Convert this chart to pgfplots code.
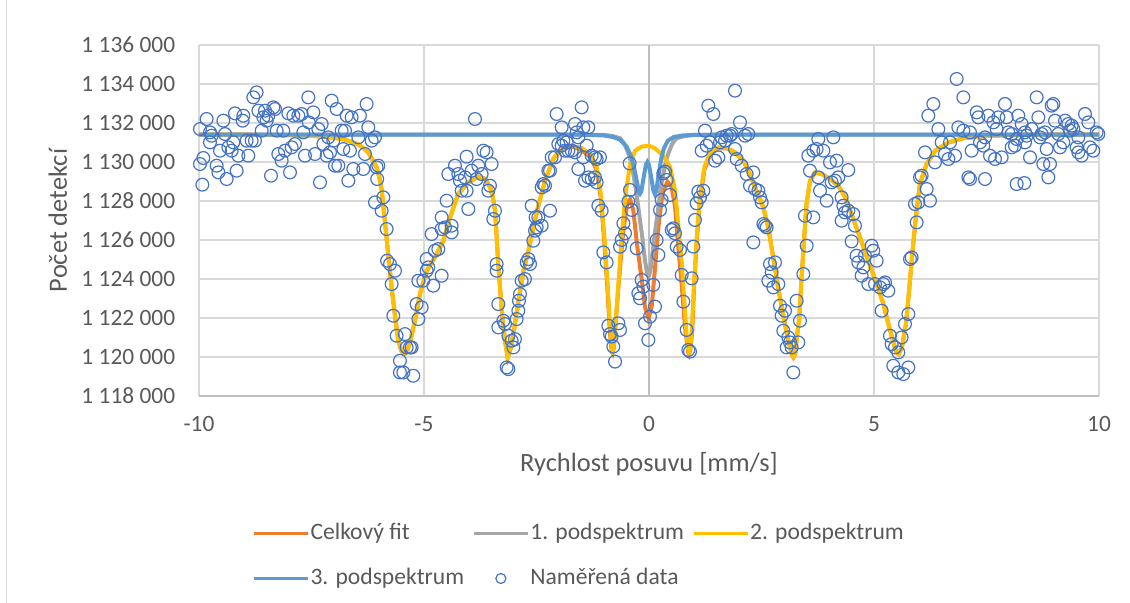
\documentclass[border=0pt]{standalone}
\usepackage{fontspec}
\setmainfont{Carlito}
\usepackage{pgfplots}
\usepackage{pgfplotstable}
\pgfplotsset{compat=1.18}
\definecolor{cOrange}{HTML}{ED7D31}
\definecolor{cGray}{HTML}{A5A5A5}
\definecolor{cYellow}{HTML}{FFC000}
\definecolor{cBlue}{HTML}{5B9BD5}
\definecolor{cData}{HTML}{4472C4}
\definecolor{cGrid}{HTML}{D9D9D9}
\definecolor{cAxis}{HTML}{BFBFBF}
\definecolor{cText}{HTML}{595959}

\pgfplotstableread{
x y
-10 1131400
-9 1131400
-8 1131380
-7.5 1131340
-7.2 1131290
-7.0 1131240
-6.76 1131150
-6.6 1131030
-6.46 1130900
-6.35 1130720
-6.24 1130480
-6.15 1130150
-6.05 1129700
-5.99 1129200
-5.94 1128550
-5.87 1127000
-5.79 1125100
-5.72 1123570
-5.64 1122030
-5.57 1120830
-5.5 1120300
-5.46 1120180
-5.42 1120170
-5.39 1120230
-5.31 1120750
-5.2 1121860
-5.09 1123230
-4.94 1124420
-4.76 1125110
-4.57 1125960
-4.42 1127160
-4.24 1128360
-4.01 1128960
-3.79 1129250
-3.64 1129130
-3.53 1128700
-3.47 1128200
-3.42 1127500
-3.35 1124770
-3.27 1122370
-3.2 1120830
-3.14 1119980
-3.07 1120490
-2.99 1121520
-2.9 1122890
-2.79 1124420
-2.68 1125450
-2.57 1126650
-2.45 1127840
-2.31 1129040
-2.13 1130150
-1.94 1130670
-1.72 1130840
-1.5 1130720
-1.31 1130410
-1.16 1129730
-1.07 1128360
-0.99 1126130
-0.92 1123740
-0.87 1121690
-0.83 1120500
-0.81 1120320
-0.79 1120450
-0.76 1121180
-0.7 1123060
-0.62 1125790
-0.53 1128190
-0.42 1129900
-0.31 1130580
-0.16 1130790
0.0 1130840
0.13 1130700
0.32 1130320
0.47 1129730
0.58 1128530
0.65 1126820
0.73 1124770
0.79 1122710
0.84 1121000
0.87 1120400
0.89 1120230
0.91 1120400
0.95 1121350
1.0 1123740
1.06 1126130
1.13 1128190
1.23 1129730
1.36 1130500
1.54 1130750
1.73 1130720
1.91 1130500
2.1 1130070
2.24 1129380
2.39 1128530
2.54 1127670
2.65 1126650
2.76 1125110
2.87 1123570
2.99 1122030
3.1 1120830
3.17 1120150
3.21 1119980
3.25 1120150
3.28 1120900
3.34 1122000
3.39 1124080
3.45 1126130
3.5 1127840
3.58 1129040
3.69 1129470
3.84 1129380
4.02 1129130
4.21 1128780
4.36 1128190
4.5 1127330
4.69 1126130
4.87 1124940
5.06 1123740
5.21 1122710
5.32 1121690
5.43 1120750
5.5 1120250
5.55 1120150
5.62 1120490
5.71 1121690
5.78 1123400
5.85 1125280
5.93 1127160
6.02 1128870
6.17 1129900
6.36 1130580
6.65 1131000
7.0 1131230
7.5 1131330
8.0 1131380
9.0 1131400
10 1131400
}\yellowtab

\pgfplotstableread{
x y
-10 1131400
-9 1131400
-8 1131380
-7.5 1131340
-7.2 1131290
-7.0 1131240
-6.76 1131150
-6.6 1131030
-6.46 1130900
-6.35 1130720
-6.24 1130480
-6.15 1130150
-6.05 1129700
-5.99 1129200
-5.94 1128550
-5.87 1127000
-5.79 1125100
-5.72 1123570
-5.64 1122030
-5.57 1120830
-5.5 1120300
-5.46 1120180
-5.42 1120170
-5.39 1120230
-5.31 1120750
-5.2 1121860
-5.09 1123230
-4.94 1124420
-4.76 1125110
-4.57 1125960
-4.42 1127160
-4.24 1128360
-4.01 1128960
-3.79 1129250
-3.64 1129130
-3.53 1128700
-3.47 1128200
-3.42 1127500
-3.35 1124770
-3.27 1122370
-3.2 1120830
-3.14 1119980
-3.07 1120490
-2.99 1121520
-2.9 1122890
-2.79 1124420
-2.68 1125450
-2.57 1126650
-2.45 1127840
-2.31 1129040
-2.13 1130150
-1.94 1130650
-1.72 1130800
-1.5 1130620
-1.31 1130250
-1.16 1129600
-1.07 1128150
-0.99 1125800
-0.92 1123350
-0.87 1121300
-0.83 1120300
-0.81 1120200
-0.78 1120500
-0.74 1121800
-0.68 1123600
-0.57 1126510
-0.48 1127880
-0.42 1128090
-0.35 1127540
-0.26 1125660
-0.16 1123950
-0.09 1122580
-0.01 1121980
0.06 1122580
0.13 1124460
0.21 1126680
0.3 1128400
0.41 1128990
0.5 1128740
0.58 1127710
0.65 1125660
0.73 1123600
0.8 1121550
0.87 1120250
0.89 1120150
0.92 1120400
0.96 1121300
1.0 1123500
1.06 1125900
1.13 1128000
1.23 1129600
1.36 1130400
1.54 1130700
1.73 1130700
1.91 1130500
2.1 1130070
2.24 1129380
2.39 1128530
2.54 1127670
2.65 1126650
2.76 1125110
2.87 1123570
2.99 1122030
3.1 1120830
3.17 1120150
3.21 1119980
3.25 1120150
3.28 1120900
3.34 1122000
3.39 1124080
3.45 1126130
3.5 1127840
3.58 1129040
3.69 1129470
3.84 1129380
4.02 1129130
4.21 1128780
4.36 1128190
4.5 1127330
4.69 1126130
4.87 1124940
5.06 1123740
5.21 1122710
5.32 1121690
5.43 1120750
5.5 1120250
5.55 1120150
5.62 1120490
5.71 1121690
5.78 1123400
5.85 1125280
5.93 1127160
6.02 1128870
6.17 1129900
6.36 1130580
6.65 1131000
7.0 1131230
7.5 1131330
8.0 1131380
9.0 1131400
10 1131400
}\orangetab

\pgfplotstableread{
x y
-10 1131400
-1.5 1131400
-1.0 1131390
-0.8 1131330
-0.64 1131215
-0.55 1130950
-0.46 1130450
-0.4 1130000
-0.35 1129420
-0.3 1128700
-0.24 1127710
-0.2 1127000
-0.16 1126340
-0.12 1125550
-0.09 1124970
-0.05 1124400
-0.01 1124120
0.03 1124400
0.06 1124970
0.09 1125550
0.13 1126340
0.17 1127000
0.21 1127710
0.26 1128700
0.32 1129420
0.37 1130000
0.43 1130450
0.52 1130950
0.61 1131215
0.8 1131330
1.0 1131390
1.5 1131400
10 1131400
}\graytab

\pgfplotstableread{
x y
-10 1131400
-1.5 1131400
-1.0 1131360
-0.8 1131280
-0.65 1131150
-0.5 1130800
-0.4 1130300
-0.33 1129700
-0.27 1129000
-0.22 1128450
-0.2 1128380
-0.17 1128500
-0.12 1129200
-0.07 1129850
-0.035 1130000
0.0 1129850
0.05 1129200
0.1 1128500
0.13 1128350
0.16 1128500
0.21 1129300
0.27 1130150
0.33 1130700
0.42 1131100
0.55 1131280
0.75 1131360
1.0 1131390
1.5 1131400
10 1131400
}\bluetab

\pgfplotstableread{
x y
-9.978 1131691
-9.830 1132205
-9.904 1130204
-9.978 1129896
-9.926 1128836
-9.756 1131520
-9.756 1131007
-9.719 1131349
-9.608 1129810
-9.570 1129468
-9.459 1132119
-9.533 1130580
-9.422 1131435
-9.385 1129126
-9.348 1130751
-9.274 1130580
-9.237 1131007
-9.200 1132495
-9.163 1129554
-9.126 1130323
-9.015 1132375
-9.030 1132119
-8.904 1130323
-8.941 1131093
-8.830 1131093
-8.756 1131093
-8.793 1133316
-8.719 1133572
-8.681 1132632
-8.607 1131606
-8.570 1132290
-8.533 1132632
-8.496 1132119
-8.459 1132375
-8.400 1129297
-8.348 1132803
-8.311 1132717
-8.274 1131606
-8.237 1130409
-8.163 1130067
-8.126 1131606
-8.089 1130580
-8.015 1132495
-7.978 1129468
-7.941 1130751
-7.904 1132375
-7.867 1130922
-7.793 1132375
-7.719 1132461
-7.645 1130323
-7.682 1131520
-7.570 1133316
-7.560 1132033
-7.459 1132546
-7.422 1130409
-7.348 1131691
-7.311 1128955
-7.274 1131948
-7.237 1130922
-7.163 1130323
-7.126 1131264
-7.089 1130494
-7.052 1133145
-7.015 1131093
-6.941 1132717
-6.978 1129810
-6.904 1129810
-6.830 1131606
-6.793 1130665
-6.756 1131606
-6.719 1132375
-6.681 1129041
-6.645 1130580
-6.608 1132290
-6.571 1129640
-6.460 1131264
-6.423 1132375
-6.349 1129640
-6.312 1130409
-6.275 1132974
-6.238 1131777
-6.163 1131093
-6.089 1131264
-6.052 1129725
-6.015 1129810
-6.040 1129126
-6.089 1127930
-5.941 1127502
-5.904 1128186
-5.830 1126562
-5.820 1124937
-5.756 1124766
-5.645 1124424
-5.719 1123740
-5.682 1122116
-5.608 1121090
-5.423 1121175
-5.534 1119807
-5.534 1119208
-5.460 1119208
-5.386 1120491
-5.312 1120491
-5.275 1120491
-5.238 1119037
-5.164 1122714
-5.052 1122543
-5.127 1121945
-5.127 1123911
-5.016 1123911
-4.941 1124424
-4.904 1124595
-4.793 1123655
-4.608 1124168
-4.941 1125023
-4.756 1125450
-4.682 1125536
-4.830 1126305
-4.608 1126562
-4.534 1126647
-4.386 1126733
-4.386 1126390
-4.608 1127160
-4.497 1128015
-4.460 1129383
-4.312 1129810
-4.238 1129383
-4.201 1129041
-4.163 1128528
-4.053 1128528
-4.089 1129212
-4.053 1130272
-4.015 1127588
-3.941 1129554
-3.867 1132204
-3.830 1129126
-3.793 1129810
-3.719 1129383
-3.682 1130580
-3.608 1130494
-3.571 1128528
-3.497 1129896
-3.534 1128786
-3.423 1127502
-3.460 1127075
-3.386 1124766
-3.386 1124424
-3.349 1122714
-3.349 1121517
-3.237 1121859
-3.200 1121688
-3.126 1121090
-3.052 1120833
-3.015 1120491
-3.163 1119465
-3.126 1119380
-2.978 1120919
-2.941 1121945
-2.904 1122372
-2.890 1122885
-2.867 1123227
-2.830 1123911
-2.756 1123997
-2.718 1124852
-2.681 1125023
-2.644 1124766
-2.570 1125963
-2.533 1126476
-2.496 1126647
-2.459 1127160
-2.385 1126733
-2.607 1127759
-2.520 1127160
-2.200 1127502
-2.385 1128699
-2.348 1128870
-2.311 1128785
-2.237 1129554
-2.200 1129554
-2.163 1130238
-2.089 1130238
-2.052 1132461
-1.941 1131777
-2.015 1130922
-1.941 1130837
-1.904 1131093
-1.830 1131007
-1.867 1130580
-1.793 1130580
-1.718 1130580
-1.644 1130494
-1.644 1131948
-1.607 1131520
-1.570 1131264
-1.496 1132803
-1.459 1131777
-1.348 1131777
-1.385 1130837
-1.570 1129640
-1.459 1130238
-1.422 1129041
-1.348 1129212
-1.274 1129126
-1.274 1130323
-1.200 1130238
-1.163 1130153
-1.089 1130238
-1.200 1129212
-1.163 1128956
-1.126 1127759
-1.052 1127502
-1.015 1125365
-0.941 1124852
-0.904 1121603
-0.867 1121175
-0.830 1121045
-0.793 1120533
-0.755 1119764
-0.681 1121729
-0.644 1121387
-0.644 1125660
-0.607 1126002
-0.533 1126343
-0.570 1126856
-0.459 1127967
-0.430 1129930
-0.422 1128565
-0.385 1127540
-0.274 1125574
-0.200 1123011
-0.237 1123267
-0.126 1123609
-0.163 1123951
-0.089 1121729
-0.015 1120874
0.096 1123694
0.133 1122584
0.022 1122071
0.170 1126002
0.208 1125233
0.245 1127540
0.282 1128053
0.319 1129420
0.356 1129505
0.393 1129078
0.467 1128309
0.504 1126514
0.541 1126600
0.578 1126343
0.615 1125660
0.689 1125489
0.726 1124207
0.763 1122840
0.837 1121387
0.874 1120362
0.911 1120276
0.948 1124036
0.985 1125660
1.022 1127027
1.059 1127882
1.096 1128480
1.133 1128186
1.207 1128528
1.244 1131606
1.170 1130580
1.281 1130837
1.355 1131007
1.318 1132888
1.430 1132461
1.467 1130067
1.541 1130238
1.578 1131007
1.615 1131264
1.689 1131093
1.726 1131349
1.800 1131349
1.837 1131435
1.911 1130665
1.948 1130153
2.022 1132033
1.911 1133658
2.133 1131349
2.059 1129810
2.170 1129383
2.244 1128785
2.207 1131435
2.319 1129468
2.356 1128614
2.430 1128528
2.467 1128186
2.504 1127930
2.541 1126818
2.578 1126733
2.615 1126647
2.319 1125878
2.689 1124766
2.800 1124852
2.726 1124339
2.652 1123911
2.763 1123569
2.874 1123740
2.911 1122629
2.948 1122116
3.022 1122372
2.985 1121346
3.096 1121004
3.170 1120491
3.059 1120491
3.133 1120748
3.207 1119208
3.281 1122885
3.318 1120748
3.355 1121859
3.429 1124253
3.503 1125707
3.466 1127245
3.651 1127160
3.577 1129554
3.540 1130323
3.651 1130580
3.725 1130665
3.763 1131178
4.096 1131264
3.874 1130580
4.022 1129982
4.170 1130067
4.059 1128956
4.133 1129041
4.207 1129212
4.429 1129588
3.763 1129212
3.800 1128528
3.948 1128015
4.281 1128186
4.318 1127759
4.355 1127416
4.281 1126989
4.429 1127502
4.540 1127331
4.577 1126733
4.503 1125929
4.614 1125194
4.651 1124852
4.763 1124595
4.725 1124168
4.799 1125194
4.948 1125707
4.985 1125450
5.059 1124937
4.874 1123740
5.022 1123740
5.133 1123569
5.207 1123740
5.244 1123826
5.318 1123398
5.170 1122372
5.355 1121090
5.392 1120662
5.466 1120491
5.540 1120235
5.614 1121004
5.688 1121688
5.763 1122201
5.429 1119550
5.540 1119208
5.651 1119123
5.763 1119465
5.800 1125023
5.837 1125108
5.948 1126904
5.911 1127844
5.985 1127930
6.022 1129212
6.059 1129298
6.170 1128614
6.244 1128015
6.133 1130494
6.207 1132375
6.318 1132974
6.355 1129982
6.429 1131691
6.503 1131007
6.577 1130409
6.837 1134257
6.985 1133316
6.652 1130153
6.800 1130323
6.689 1131007
6.874 1131777
6.985 1131606
7.133 1131520
7.170 1130580
7.282 1132546
7.319 1132290
7.356 1131007
7.467 1131264
7.430 1130837
7.541 1132375
7.578 1130323
7.652 1132033
7.689 1130153
7.763 1132290
7.726 1131691
7.837 1130238
7.911 1132974
7.948 1132290
7.985 1131520
8.059 1130751
8.133 1130837
8.170 1131178
8.207 1132375
8.282 1131948
8.356 1131520
8.393 1131349
8.467 1130238
8.504 1131691
8.615 1133316
8.652 1132290
8.689 1131264
8.726 1131435
8.800 1131520
8.763 1129896
8.837 1130665
8.911 1129896
8.874 1129212
8.948 1132888
8.985 1132974
9.022 1132119
9.096 1131435
9.133 1130751
9.207 1131007
9.245 1132119
9.319 1131948
9.393 1131862
9.430 1131691
9.504 1130751
9.541 1130494
9.615 1130323
9.689 1132461
9.763 1132033
9.800 1130751
9.874 1130580
9.948 1131520
9.985 1131435
7.096 1129212
7.133 1129126
7.467 1129126
8.170 1128870
8.341 1128921
9.356 1131606
9.541 1131264
8.356 1131007
8.059 1131435
}\datatab

\begin{document}
\begin{tikzpicture}
\path[use as bounding box] (-99.5pt,-103.5pt) rectangle (465.5pt,198pt);
\draw[cGrid, line width=0.75pt] (-96.2pt,-103.5pt) -- (-96.2pt,198pt);
\begin{axis}[
  at={(0pt,0pt)}, anchor=south west,
  scale only axis, width=450pt, height=175.5pt,
  xmin=-10, xmax=10, ymin=1118000, ymax=1136000,
  clip=false,
  xtick={-10,-5,0,5,10}, xticklabels={-10,-5,0,5,10},
  ytick={1118000,1120000,1122000,1124000,1126000,1128000,1130000,1132000,1134000,1136000},
  yticklabels={1 118 000,1 120 000,1 122 000,1 124 000,1 126 000,1 128 000,1 130 000,1 132 000,1 134 000,1 136 000},
  scaled y ticks=false, scaled x ticks=false,
  grid=major, major grid style={draw=cGrid, line width=0.75pt},
  major tick length=0pt,
  axis line style={draw=none},
  tick label style={font=\fontsize{11.7}{14}\selectfont, text=cText, inner sep=0pt, text height=7.4pt, text depth=0pt},
  xticklabel style={anchor=center, yshift=-14pt},
  yticklabel style={anchor=east, xshift=-11.75pt},
  extra x ticks={0}, extra x tick labels={}, extra x tick style={major grid style={draw=cAxis, line width=0.75pt}},
  extra y ticks={1118000}, extra y tick labels={}, extra y tick style={major grid style={draw=cAxis, line width=0.75pt}},
  xlabel={Rychlost posuvu [mm/s]},
  xlabel style={at={(axis description cs:0.5,-0.2165)}, anchor=base, inner sep=0pt, font=\fontsize{13.2}{15}\selectfont, text=cText},
  ylabel={Počet detekcí},
  ylabel style={at={(axis description cs:-0.14667,0.5)}, anchor=base, inner sep=0pt, font=\fontsize{13.2}{15}\selectfont, text=cText},
  legend columns=3,
  legend cell align=left,
  legend image code/.code={\draw[mark repeat=2,mark phase=2,#1,line width=1.3pt] plot coordinates {(0pt,0pt) (13.5pt,0pt) (27pt,0pt)};},
  legend style={at={(axis description cs:0.0597,-0.3604)}, anchor=north west, draw=none, fill=none, inner sep=0pt, outer sep=0pt,
    font=\fontsize{11.8}{14}\selectfont, text=cText, row sep=11.5pt, column sep=0.6pt,
    nodes={inner sep=0pt, text height=8.5pt, text depth=2.5pt},
    /tikz/every even column/.append style={column sep=4.2pt}},
]
\addplot[cOrange, line width=2pt] table[x=x,y=y] {\orangetab};
\addlegendentry{Celkový fit}
\addplot[cGray, line width=2pt] table[x=x,y=y] {\graytab};
\addlegendentry{1. podspektrum}
\addplot[cYellow, line width=2pt] table[x=x,y=y] {\yellowtab};
\addlegendentry{2. podspektrum}
\addplot[cBlue, line width=2pt] table[x=x,y=y] {\bluetab};
\addlegendentry{3. podspektrum}
\addplot[only marks, mark=o, mark size=3.2pt, mark options={draw=cData, line width=0.6pt, fill=none},
  legend image code/.code={\draw[only marks, mark=o, mark size=2.5pt, draw=cData, line width=0.6pt] plot coordinates {(13.5pt,0pt)};}]
  table[x=x,y=y] {\datatab};
\addlegendentry{Naměřená data}
\end{axis}
\end{tikzpicture}
\end{document}
